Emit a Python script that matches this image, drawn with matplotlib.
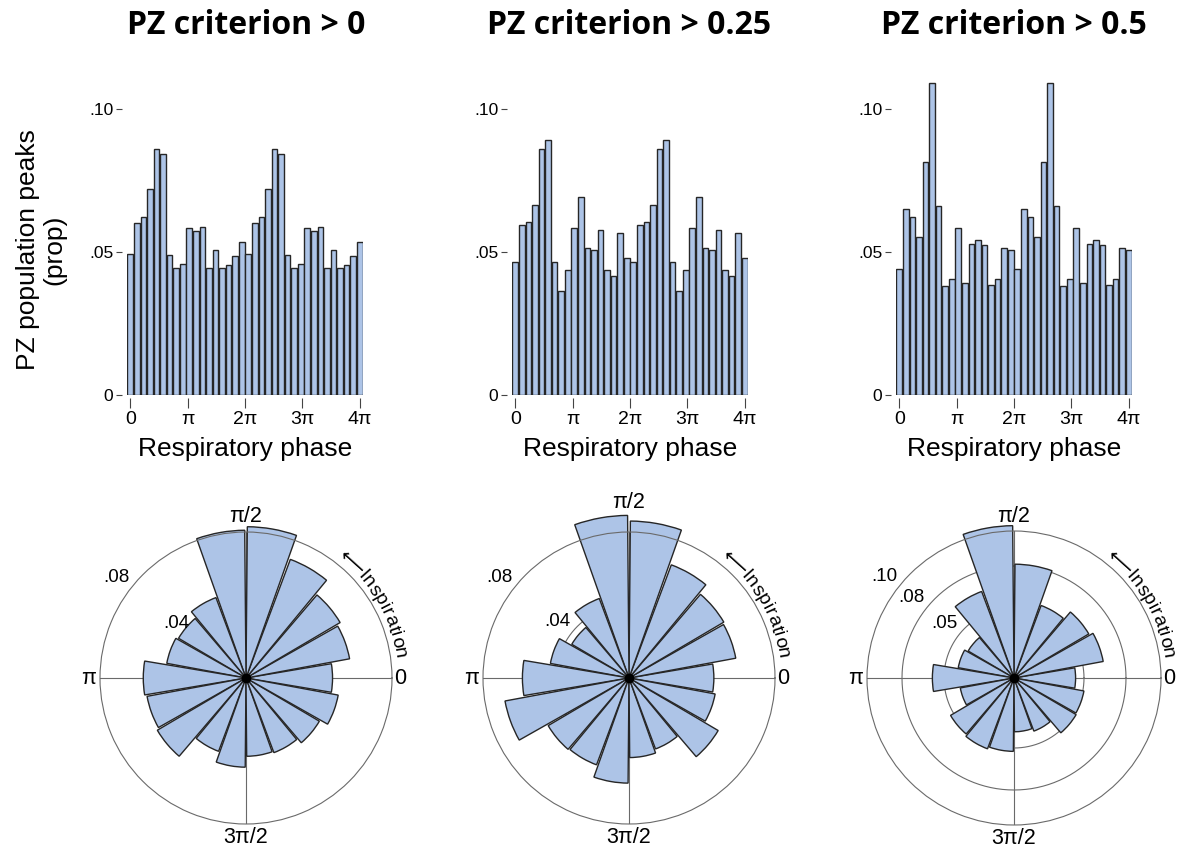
#!/usr/bin/env python3
"""
PZ population peak distributions over respiratory phase, three criteria.
"""

import numpy as np
import matplotlib
matplotlib.use('Agg')
import matplotlib.pyplot as plt

plt.rcParams['font.family'] = ['Liberation Sans', 'DejaVu Sans']

# One respiratory cycle, 18 bins of 20 deg (bin centres at 0, 20, ... 340 deg)
criteria = ['PZ criterion > 0', 'PZ criterion > 0.25', 'PZ criterion > 0.5']
peaks_c0 = [0.0492, 0.0599, 0.0621, 0.0720, 0.0860, 0.0840, 0.0488, 0.0445, 0.0458,
            0.0584, 0.0572, 0.0585, 0.0445, 0.0507, 0.0445, 0.0453, 0.0484, 0.0533]
peaks_c025 = [0.0465, 0.0595, 0.0603, 0.0662, 0.0860, 0.0891, 0.0465, 0.0364, 0.0438,
              0.0584, 0.0691, 0.0514, 0.0508, 0.0576, 0.0436, 0.0415, 0.0567, 0.0480]
peaks_c05 = [0.0440, 0.0648, 0.0620, 0.0553, 0.0813, 0.1088, 0.0660, 0.0380, 0.0405,
             0.0583, 0.0390, 0.0526, 0.0540, 0.0524, 0.0384, 0.0405, 0.0515, 0.0508]
all_peaks = [peaks_c0, peaks_c025, peaks_c05]

hist_yticks = [0, 0.05, 0.10]
hist_yticklabels = ['0', '.05', '.10']
hist_xticklabels = ['0', '\u03c0', '2\u03c0', '3\u03c0', '4\u03c0']

# rose plot radial scale and labelled rings
rose_rmax = [0.083, 0.080, 0.105]
rose_rings = [[0.04, 0.08], [0.04, 0.08], [0.05, 0.08, 0.10]]
rose_ring_labels = [['.04', '.08'], ['.04', '.08'], ['.05', '.08', '.10']]
rose_dir_labels = ['0', '\u03c0/2', '\u03c0', '3\u03c0/2']

BAR_COLOR = '#adc4e7'
EDGE_COLOR = '#262626'
GRID_COLOR = '#6a6a6a'

W, H = 1190, 858
fig = plt.figure(figsize=(W / 100, H / 100), dpi=100)


def px_box(left, top, right, bottom):
    return [left / W, (H - bottom) / H, (right - left) / W, (bottom - top) / H]


def curved_text(ax, text, start_deg, r_px, fontsize, spacing=0.6):
    """Place text character by character, clockwise along a circle."""
    renderer = fig.canvas.get_renderer()
    cx, cy = ax.transData.transform((0, 0))
    probe = fig.text(0, 0, '', fontsize=fontsize)
    prop = probe.get_fontproperties()
    probe.remove()
    widths = []
    for ch in text:
        w, _, _ = renderer.get_text_width_height_descent(ch, prop, ismath=False)
        widths.append(w)
    s = 0.0
    for ch, w in zip(text, widths):
        mid = s + w / 2
        s += w + spacing
        th = np.deg2rad(start_deg) - mid / r_px
        x = cx + r_px * np.cos(th)
        y = cy + r_px * np.sin(th)
        fig.text(x / W, y / H, ch, fontsize=fontsize, rotation=np.rad2deg(th) - 90,
                 rotation_mode='anchor', ha='center', va='center_baseline')


hist_lefts = [127, 512, 896]
rose_centres = [246, 629, 1014]
rose_radius = [146, 146, 147]
top_label_px = [161, 176, 161]

for k, peaks in enumerate(all_peaks):
    # ---- histogram over two cycles ----
    vals = np.array(peaks + peaks)
    n = len(vals)
    step = 4 * np.pi / (n - 1)
    xs = np.arange(n) * step

    left = hist_lefts[k]
    ax = fig.add_axes(px_box(left, 80, left + 236, 395))
    ax.bar(xs, vals, width=step * 0.88, color=BAR_COLOR, edgecolor=EDGE_COLOR,
           linewidth=1.0)
    ax.set_xlim(-step / 2, 4 * np.pi + step / 2)
    ax.set_ylim(0, 0.11)
    for side in ['top', 'right', 'left', 'bottom']:
        ax.spines[side].set_visible(False)
    ax.spines['left'].set_position(('outward', 3.5))
    ax.spines['bottom'].set_position(('outward', 2.2))
    ax.set_yticks(hist_yticks)
    ax.set_yticklabels(hist_yticklabels)
    ax.set_xticks(np.arange(5) * np.pi)
    ax.set_xticklabels(hist_xticklabels)
    ax.tick_params(axis='y', length=4.3, width=0.8, color='#444444', pad=2, labelsize=12.5)
    ax.tick_params(axis='x', length=7.5, width=0.8, color='#444444', pad=2, labelsize=14)
    ax.set_xlabel('Respiratory phase', fontsize=19, labelpad=6)
    ax.set_facecolor('none')

    fig.text(rose_centres[k] / W, 1 - 26 / H, criteria[k], fontsize=23,
             fontweight='bold', family=['Open Sans', 'DejaVu Sans'],
             ha='center', va='center')

    # ---- rose plot over one cycle ----
    cx, R = rose_centres[k], rose_radius[k]
    cy = 678
    pax = fig.add_axes(px_box(cx - R, cy - R, cx + R, cy + R), projection='polar')
    rmax = rose_rmax[k]
    nb = len(peaks)
    thetas = np.arange(nb) * 2 * np.pi / nb
    pax.set_ylim(0, rmax)
    pax.set_xticks([])
    pax.set_yticks([])
    pax.grid(False)
    pax.spines['polar'].set_color(GRID_COLOR)
    pax.spines['polar'].set_linewidth(0.8)

    for a in np.arange(4) * np.pi / 2:
        pax.plot([a, a], [0, rmax], color=GRID_COLOR, lw=0.8, zorder=0.5)
    circ = np.linspace(0, 2 * np.pi, 361)
    for rv in rose_rings[k]:
        if rv < 0.93 * rmax:
            pax.plot(circ, np.full_like(circ, rv), color=GRID_COLOR, lw=0.8, zorder=0.5)

    pax.bar(thetas, peaks, width=2 * np.pi / nb * 0.95, color=BAR_COLOR,
            edgecolor=EDGE_COLOR, linewidth=1.0, zorder=2, clip_on=False)
    pax.plot([0], [0], 'o', color='black', ms=6, zorder=3, clip_on=False)

    # direction labels
    offs = [1.055, top_label_px[k] / R, 1.075, 1.09]
    for j, lab in enumerate(rose_dir_labels):
        pax.text(j * np.pi / 2, rmax * offs[j], lab, fontsize=15.5,
                 ha='center', va='center', clip_on=False)

    # radial ring labels
    for rv, lab in zip(rose_rings[k], rose_ring_labels[k]):
        r_at = rv if rv < 0.93 * rmax else rmax
        pax.text(np.deg2rad(142), r_at + rmax * 18 / R, lab, fontsize=13.5,
                 ha='center', va='center', clip_on=False)

    curved_text(pax, '\u27f5Inspiration', 53, 157, 14)

fig.text(41 / W, 1 - 250 / H, 'PZ population peaks\n(prop)', fontsize=19,
         rotation=90, ha='center', va='center', multialignment='center',
         linespacing=1.15)

fig.savefig('out.png', dpi=100)
